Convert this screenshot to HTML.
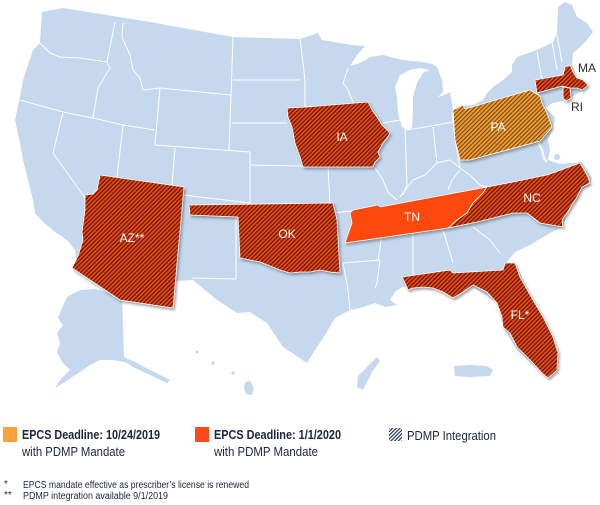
<!DOCTYPE html>
<html><head><meta charset="utf-8"><style>
html,body{margin:0;padding:0;background:#fff;}
svg{display:block;}
</style></head><body>
<svg width="600" height="505" viewBox="0 0 600 505" xmlns="http://www.w3.org/2000/svg">
<defs>
<pattern id="h" width="3" height="3" patternUnits="userSpaceOnUse" patternTransform="rotate(45)">
<rect width="3" height="3" fill="#f04c14"/><rect width="1.3" height="3" fill="#5e1906"/></pattern>
<pattern id="hp" width="3" height="3" patternUnits="userSpaceOnUse" patternTransform="rotate(45)">
<rect width="3" height="3" fill="#f4a135"/><rect width="1.2" height="3" fill="#7a4810"/></pattern>
<pattern id="hl" width="2.6" height="2.6" patternUnits="userSpaceOnUse" patternTransform="rotate(45)">
<rect width="2.6" height="2.6" fill="#ffffff"/><rect width="1.2" height="2.6" fill="#1f3560"/></pattern>
<filter id="sh" x="-10%" y="-10%" width="130%" height="130%">
<feDropShadow dx="1.5" dy="2" stdDeviation="1.3" flood-color="#555" flood-opacity="0.55"/></filter>
</defs>

<!-- base contiguous US -->
<path fill="#c5d8ee" d="M42,12 L63,8 L150,22 L233,37 L300,39 L318,33 L322,40 L352,45 L365,46 L357,55 L350,66 L360,63 L370,57 L383,55 L403,60 L423,62 L432,64 L437,67 L442,80 L443,92 L438,97 L445,95 L450,92 L453,110 L452,115 L460,110 L462,106 L473,105 L483,100 L487,93 L493,87 L503,80 L512,72 L512,65 L517,57 L537,50 L553,42 L557,33 L558,7 L565,2 L572,5 L577,17 L587,23 L593,32 L587,40 L580,47 L573,53 L572,63 L573,68 L577,78 L583,80 L588,86 L580,92 L567,100 L553,103 L545,108 L550,112 L555,118 L553,128 L548,140 L550,150 L548,160 L560,164 L582,162 L592,178 L590,185 L582,190 L577,200 L567,213 L563,227 L550,233 L530,245 L515,252 L507,262 L515,263 L533,300 L557,347 L558,370 L547,378 L533,365 L517,350 L503,327 L497,303 L473,287 L453,298 L440,290 L423,287 L402,287 L395,292 L390,300 L397,305 L385,307 L375,303 L360,308 L350,310 L335,318 L325,335 L315,350 L307,363 L283,347 L267,323 L250,312 L237,313 L217,300 L193,280 L176,281 L173,308 L120,300 L72,268 L76,258 L75,250 L67,240 L55,232 L43,222 L35,213 L33,200 L28,180 L23,160 L20,143 L15,120 L20,97 L23,80 L33,50 L40,43 Z"/>
<!-- Lake Michigan -->
<path fill="#fff" d="M395,87 L400,75 L410,70 L420,68 L430,70 L423,73 L417,83 L413,97 L413,113 L412,128 L407,130 L402,127 L398,113 L397,97 Z"/>
<path d="M538,142 L542,150 L544,158 L547,162" stroke="#fff" stroke-width="2" fill="none"/>
<circle cx="557" cy="157" r="3" fill="#c5d8ee"/>

<!-- Alaska -->
<path fill="#c5d8ee" d="M67,297 L80,290 L95,289 L110,293 L122,298 L124,357 L135,362 L150,370 L170,380 L167,383 L150,375 L135,368 L125,362 L112,360 L100,360 L90,365 L80,372 L65,382 L55,388 L60,380 L70,370 L62,362 L57,352 L60,343 L57,333 L63,325 L58,318 L62,308 Z"/>
<!-- Hawaii -->
<circle cx="197" cy="352" r="1.3" fill="#c5d8ee"/>
<circle cx="213" cy="363" r="1.7" fill="#c5d8ee"/>
<circle cx="233" cy="373" r="1.7" fill="#c5d8ee"/>
<path fill="#c5d8ee" d="M245,382 L250,381 L254,388 L252,395 L246,394 L244,388 Z"/>
<!-- other islands -->
<path fill="#c5d8ee" d="M377,357 L380,361 L372,372 L368,380 L363,390 L357,387 L358,376 L364,370 L370,364 Z"/>
<path fill="#c5d8ee" d="M454,366 L470,365 L487,366 L493,370 L490,376 L470,377 L455,376 Z"/>

<!-- state lines -->
<g stroke="#fff" stroke-width="1" fill="none" stroke-linejoin="round">
<path d="M40,43 L50,53 L60,57 L80,58 L107,62"/>
<path d="M115,22 L107,62 L110,68 L98,88 L93,118"/>
<path d="M123,23 L122,37 L130,55 L133,70 L140,78 L143,90 L160,88"/>
<path d="M20,100 L63,112 L93,118 L123,125 L155,130"/>
<path d="M63,112 L53,153 L83,195 L86,200"/>
<path d="M123,125 L117,177"/>
<path d="M160,88 L231,95"/>
<path d="M160,88 L155,145 L250,152"/>
<path d="M175,148 L172,185"/>
<path d="M250,152 L250,205"/>
<path d="M183,195 L250,203"/>
<path d="M233,37 L231,95 L229,150"/>
<path d="M233,80 L300,80"/>
<path d="M232,123 L287,123"/>
<path d="M250,165 L300,166 L328,167"/>
<path d="M300,38 L305,80 L305,107 L350,106"/>
<path d="M328,167 L330,205 L333,213 L380,208"/>
<path d="M375,168 L382,178 L388,192 L397,200"/>
<path d="M348,68 L343,83 L348,90 L353,102"/>
<path d="M383,123 L400,120"/>
<path d="M405,128 L407,185 L403,195"/>
<path d="M407,130 L437,125 L453,122"/>
<path d="M433,127 L437,163"/>
<path d="M460,168 L450,160 L437,163 L425,175 L413,180 L400,197"/>
<path d="M452,113 L455,140 L460,168 L470,175 L480,185 L487,187"/>
<path d="M460,170 L452,180 L448,190"/>
<path d="M380,210 L382,235 L378,260"/>
<path d="M343,263 L380,260"/>
<path d="M343,263 L348,290 L350,310"/>
<path d="M380,260 L377,283 L375,288"/>
<path d="M413,230 L413,275"/>
<path d="M443,230 L453,263"/>
<path d="M473,227 L490,240 L500,253"/>
<path d="M236,217 L236,279"/>
<path d="M192,278 L236,279"/>
<path d="M537,52 L542,80"/>
<path d="M552,42 L557,70"/>
<path d="M557,35 L562,62"/>
<path d="M537,93 L540,103"/>
</g>

<!-- highlighted states -->
<g filter="url(#sh)" stroke="#fff" stroke-width="0.8" stroke-linejoin="round">
<path fill="url(#h)" d="M100,175 L184,187 L173,308 L120,300 L72,268 L78,256 L83,240 L82,232 L85,210 L85,195 L93,194 L97,190 Z"/>
<path fill="url(#h)" d="M189,205 L333,203 L337,220 L340,273 L330,272 L320,270 L310,272 L300,272 L290,273 L280,270 L270,266 L260,262 L250,260 L240,258 L238,217 L190,215 Z"/>
<path fill="url(#h)" d="M287,108 L307,107 L368,102 L372,110 L377,117 L382,125 L390,133 L387,138 L383,143 L378,152 L380,157 L375,162 L373,167 L303,167 L300,157 L295,143 L292,127 L288,117 Z"/>
<path fill="url(#hp)" d="M453,110 L463,105 L465,109 L530,90 L540,96 L542,103 L547,113 L552,127 L547,133 L540,141 L470,160 L460,160 L455,140 Z"/>
<path fill="url(#h)" d="M535,80 L563,75 L565,67 L570,65 L573,72 L577,78 L583,80 L588,85 L582,90 L577,88 L570,88 L562,86 L537,93 Z"/>
<path fill="url(#h)" d="M563,87 L570,88 L571,98 L566,101 L563,98 Z"/>
<path fill="#fd4a0c" d="M353,210 L378,205 L380,207 L487,187 L483,193 L473,203 L467,213 L457,220 L448,228 L345,243 L347,237 L352,223 L350,213 Z"/>
<path fill="url(#h)" d="M448,228 L457,220 L467,213 L473,203 L483,193 L487,187 L513,182 L547,175 L580,163 L583,168 L588,177 L590,183 L582,187 L577,197 L573,203 L567,213 L562,220 L563,227 L540,223 L527,213 L513,213 L497,217 L477,222 Z"/>
<path fill="url(#h)" d="M402,277 L450,270 L453,273 L503,270 L505,263 L515,263 L520,277 L533,300 L543,317 L553,337 L558,353 L557,370 L548,378 L542,373 L533,363 L523,353 L517,347 L510,333 L503,327 L502,317 L497,303 L487,292 L473,285 L463,292 L453,298 L443,292 L433,288 L423,287 L413,288 L408,290 L405,283 Z"/>
</g>

<!-- labels -->
<g font-family="Liberation Sans, sans-serif" font-size="12" fill="#fff" text-anchor="middle">
<text x="342" y="141">IA</text>
<text x="498" y="131">PA</text>
<text x="412" y="221">TN</text>
<text x="532" y="202">NC</text>
<text x="287" y="238">OK</text>
<text x="132" y="242">AZ**</text>
<text x="520" y="319">FL*</text>
</g>
<g font-family="Liberation Sans, sans-serif" font-size="12" fill="#2a2a2a" text-anchor="middle">
<text x="587" y="72">MA</text>
<text x="577" y="111">RI</text>
</g>

<!-- legend -->
<rect x="3" y="427" width="14" height="15" fill="#f9a13c"/>
<rect x="195" y="427" width="14" height="15" fill="#f84a1b"/>
<rect x="389" y="428" width="13" height="13" fill="url(#hl)"/>
<g font-family="Liberation Sans, sans-serif" fill="#1c2541">
<text x="22" y="439" font-size="13" font-weight="bold" textLength="138" lengthAdjust="spacingAndGlyphs">EPCS Deadline: 10/24/2019</text>
<text x="22" y="456" font-size="13" textLength="103" lengthAdjust="spacingAndGlyphs">with PDMP Mandate</text>
<text x="214" y="439" font-size="13" font-weight="bold" textLength="127" lengthAdjust="spacingAndGlyphs">EPCS Deadline: 1/1/2020</text>
<text x="214" y="456" font-size="13" textLength="104" lengthAdjust="spacingAndGlyphs">with PDMP Mandate</text>
<text x="407" y="440" font-size="13" textLength="89" lengthAdjust="spacingAndGlyphs">PDMP Integration</text>
<text x="4" y="487" font-size="10">*</text>
<text x="23" y="488" font-size="10" textLength="226" lengthAdjust="spacingAndGlyphs">EPCS mandate effective as prescriber’s license is renewed</text>
<text x="4" y="498" font-size="10">**</text>
<text x="23" y="499" font-size="10" textLength="145" lengthAdjust="spacingAndGlyphs">PDMP integration available 9/1/2019</text>
</g>
</svg>
</body></html>
